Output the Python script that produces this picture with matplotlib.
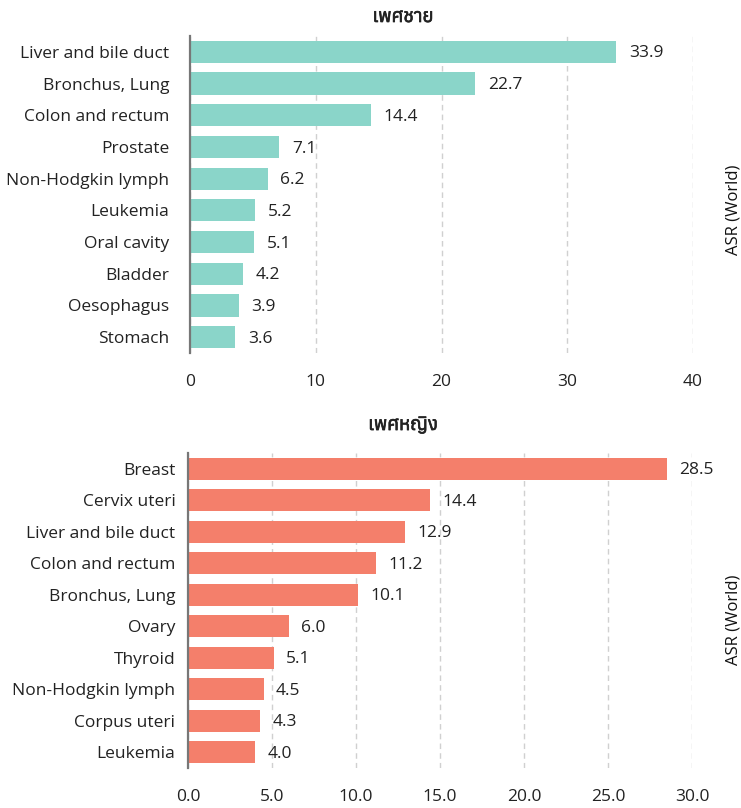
import matplotlib
matplotlib.use("Agg")
import matplotlib.pyplot as plt
import matplotlib.patheffects as pe
from matplotlib import font_manager
from matplotlib.ft2font import FT2Font

# ---- data ----
male_labels = ["Liver and bile duct", "Bronchus, Lung", "Colon and rectum", "Prostate",
               "Non-Hodgkin lymph", "Leukemia", "Oral cavity", "Bladder", "Oesophagus", "Stomach"]
male_values = [33.9, 22.7, 14.4, 7.1, 6.2, 5.2, 5.1, 4.2, 3.9, 3.6]
female_labels = ["Breast", "Cervix uteri", "Liver and bile duct", "Colon and rectum",
                 "Bronchus, Lung", "Ovary", "Thyroid", "Non-Hodgkin lymph", "Corpus uteri", "Leukemia"]
female_values = [28.5, 14.4, 12.9, 11.2, 10.1, 6.0, 5.1, 4.5, 4.3, 4.0]
male_title = "เพศชาย"
female_title = "เพศหญิง"
axis_label = "ASR (World)"
male_ticks = [0, 10, 20, 30, 40]
female_ticks = [0, 5, 10, 15, 20, 25, 30]

# find a font with Thai glyphs
thai_font = None
found = []
for f in font_manager.fontManager.ttflist:
    try:
        ft = FT2Font(f.fname)
        if ft.get_char_index(0x0E40) and ft.get_char_index(0x0E0A):
            found.append(f.name)
    except Exception:
        pass
if found:
    thai_font = sorted(set(found))[0]

base_family = ["Open Sans", "DejaVu Sans"]
title_family = ([thai_font] if thai_font else []) + ["DejaVu Sans"]

W, H = 741, 808
fig = plt.figure(figsize=(W / 100, H / 100), dpi=100)

def px_axes(x0, y0, x1, y1):
    return fig.add_axes([x0 / W, 1 - y1 / H, (x1 - x0) / W, (y1 - y0) / H])

text_color = "#222222"
FS = 12.5

def draw(ax, labels, values, ticks, xmax, color, fmt_ticks, ypad):
    ypos = list(range(len(labels)))
    ax.barh(ypos, values, height=0.7, color=color, zorder=2)
    ax.set_ylim(len(labels) - 0.5, -0.5)
    ax.set_xlim(0, xmax)
    ax.set_yticks(ypos)
    ax.set_yticklabels(labels, family=base_family, fontsize=FS, color=text_color)
    ax.set_xticks(ticks)
    ax.set_xticklabels([fmt_ticks(t) for t in ticks], family=base_family, fontsize=FS, color=text_color)
    ax.tick_params(axis="y", length=0, pad=ypad)
    ax.tick_params(axis="x", length=0, pad=15)
    for s in ["top", "right", "bottom"]:
        ax.spines[s].set_visible(False)
    ax.spines["left"].set_color("#777777")
    ax.spines["left"].set_linewidth(1.6)
    ax.spines["left"].set_zorder(3)
    ax.grid(axis="x", linestyle=(0, (4, 3)), color="#d0d0d0", linewidth=1.0, zorder=1)
    ax.set_axisbelow(True)
    for y, v in zip(ypos, values):
        ax.annotate(f"{v:.1f}", (v, y + 0.05), xytext=(9, 0), textcoords="offset points",
                    va="center", ha="left", family=base_family, fontsize=FS, color=text_color)

ax1 = px_axes(190, 36, 693, 353)
draw(ax1, male_labels, male_values, male_ticks, 40, "#8AD5C9", lambda t: f"{t:d}", 15)
ax2 = px_axes(188, 453, 692, 768)
draw(ax2, female_labels, female_values, female_ticks, 30, "#F47F6B", lambda t: f"{t:.1f}", 9)

stroke = [pe.withStroke(linewidth=0.5, foreground=text_color)]
fig.text(403 / W, 1 - 17 / H, male_title, ha="center", va="center", family=title_family,
         fontsize=13.5, fontweight="bold", color=text_color, path_effects=stroke)
fig.text(403 / W, 1 - 425 / H, female_title, ha="center", va="center", family=title_family,
         fontsize=13.5, fontweight="bold", color=text_color, path_effects=stroke)
fig.text(733 / W, 1 - 210 / H, axis_label, rotation=90, ha="center", va="center",
         family=base_family, fontsize=12, color="#111111")
fig.text(733 / W, 1 - 620 / H, axis_label, rotation=90, ha="center", va="center",
         family=base_family, fontsize=12, color="#111111")

fig.savefig("out.png", dpi=100, facecolor="white")
